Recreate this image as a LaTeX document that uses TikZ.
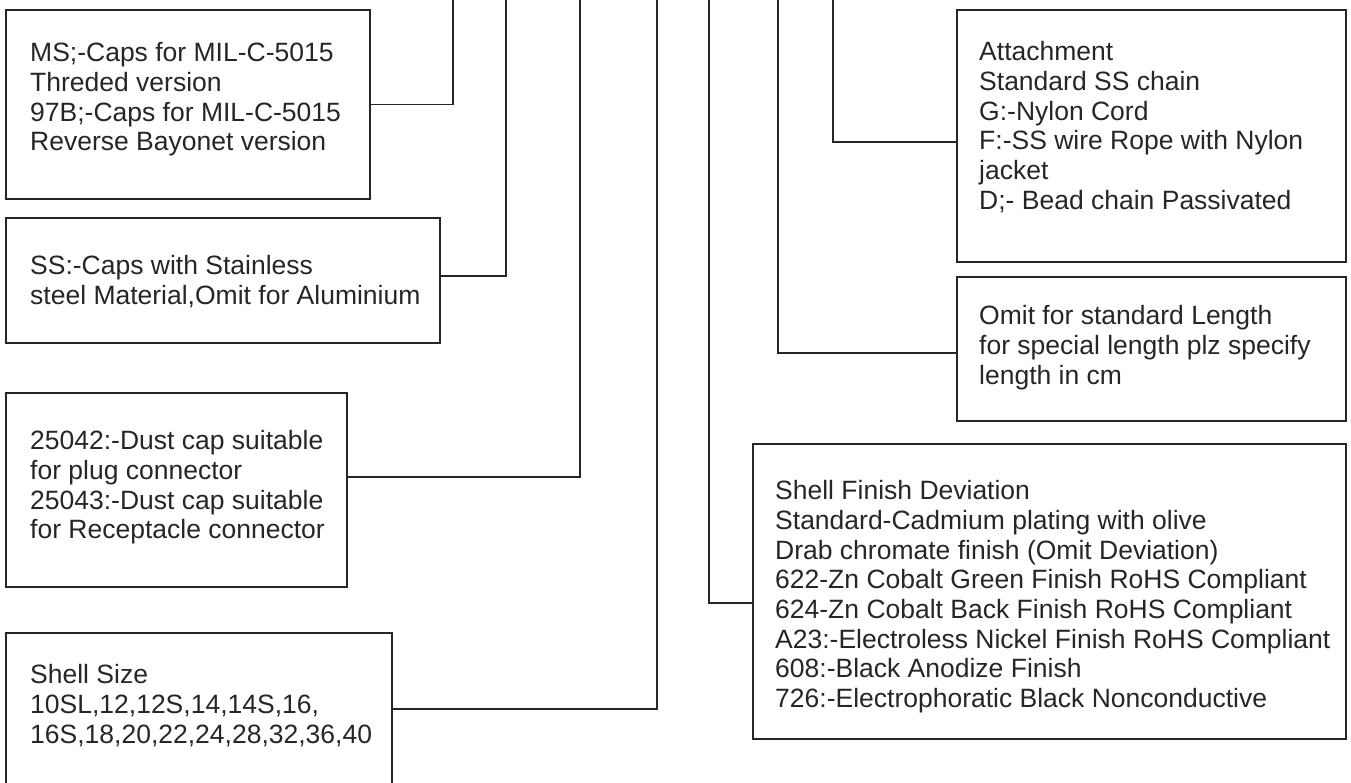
\documentclass[tikz,border=0pt]{standalone}
\usepackage{fontspec}
\setmainfont{Liberation Sans}
\usepackage{tikz}

\begin{document}
\begin{tikzpicture}[
  x=1pt,y=-1pt,
  every node/.style={font=\fontsize{26.5}{29.7}\selectfont,text=black!85},
  box/.style={draw=black!85,line width=1.8pt,inner sep=0pt},
  txt/.style={anchor=north west,align=left,inner sep=0pt},
  link/.style={draw=black!85,line width=1.8pt}
]
\useasboundingbox (0,0) rectangle (1351,783);
\node[box,minimum width=364pt,minimum height=189pt] (ms) at (188,104.5) {};
\node[box,minimum width=434pt,minimum height=125pt] (ss) at (223,280.5) {};
\node[box,minimum width=341pt,minimum height=194pt] (dc) at (176.5,490) {};
\node[box,minimum width=386pt,minimum height=160pt] (sz) at (199,713) {};
\node[box,minimum width=389pt,minimum height=252pt] (at) at (1151.5,136) {};
\node[box,minimum width=389pt,minimum height=144pt] (om) at (1151.5,349) {};
\node[box,minimum width=593pt,minimum height=295pt] (sf) at (1049.5,591.5) {};
\node[txt] (ms-t) at (30,42.3) {MS;-Caps for MIL-C-5015\\Threded version\\97B;-Caps for MIL-C-5015\\Reverse Bayonet version};
\node[txt] (ss-t) at (30,255.3) {SS:-Caps with Stainless\\steel Material,Omit for Aluminium};
\node[txt] (dc-t) at (30,430.3) {25042:-Dust cap suitable\\for plug connector\\25043:-Dust cap suitable\\for Receptacle connector};
\node[txt] (sz-t) at (30,664.3) {Shell Size\\10SL,12,12S,14,14S,16,\\16S,18,20,22,24,28,32,36,40};
\node[txt] (at-t) at (979,41.3) {Attachment\\Standard SS chain\\G:-Nylon Cord\\F:-SS wire Rope with Nylon\\jacket\\D;- Bead chain Passivated};
\node[txt] (om-t) at (979,305.3) {Omit for standard Length\\for special length plz specify\\length in cm};
\node[txt] (sf-t) at (775,480.3) {Shell Finish Deviation\\Standard-Cadmium plating with olive\\Drab chromate finish (Omit Deviation)\\622-Zn Cobalt Green Finish RoHS Compliant\\624-Zn Cobalt Back Finish RoHS Compliant\\A23:-Electroless Nickel Finish RoHS Compliant\\608:-Black Anodize Finish\\726:-Electrophoratic Black Nonconductive};
\coordinate (ms-up) at (453,0);
\coordinate (ss-up) at (506,0);
\coordinate (dc-up) at (580,0);
\coordinate (sz-up) at (657,0);
\coordinate (sf-up) at (709,0);
\coordinate (om-up) at (778,0);
\coordinate (at-up) at (833,0);
\draw[link] (ms.east) -| (ms-up);
\draw[link] ([yshift=4.5pt]ss.east) -| (ss-up);
\draw[link] ([yshift=13pt]dc.east) -| (dc-up);
\draw[link] ([yshift=4pt]sz.east) -| (sz-up);
\draw[link] ([yshift=-6pt]at.west) -| (at-up);
\draw[link] ([yshift=-4pt]om.west) -| (om-up);
\draw[link] ([yshift=-11.5pt]sf.west) -| (sf-up);
\end{tikzpicture}
\end{document}
